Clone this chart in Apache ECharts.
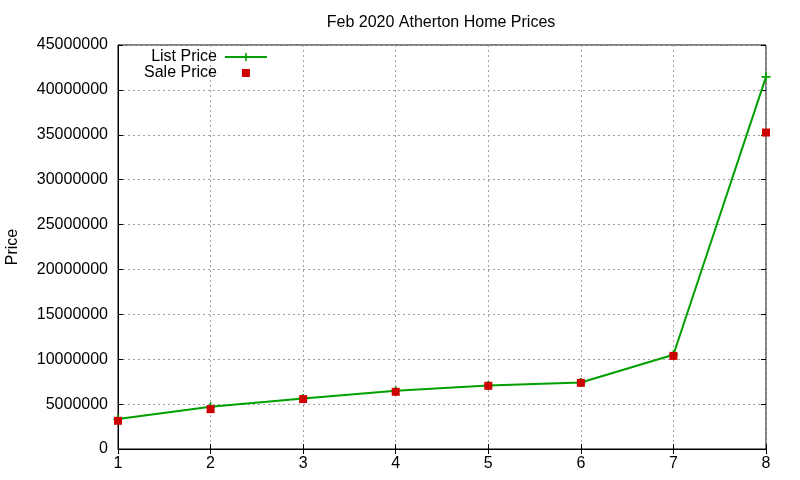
<!DOCTYPE html>
<html>
<head>
<meta charset="utf-8">
<script src="https://cdn.jsdelivr.net/npm/echarts@6/dist/echarts.min.js"></script>
<style>
  html, body { margin: 0; padding: 0; background: #fff; }
  #container { width: 800px; height: 480px; }
</style>
</head>
<body>
<div id="container"></div>
<script>
    var months = ['1', '2', '3', '4', '5', '6', '7', '8'];
    var listPrice = [3330000, 4700000, 5630000, 6480000, 7070000, 7400000, 10500000, 41450000];
    var salePrice = [3140000, 4440000, 5560000, 6370000, 7040000, 7370000, 10370000, 35250000];
    var priceTicks = [0, 45000000, 5000000];

    var dom = document.getElementById("container");
    var myChart = echarts.init(dom);
    var font = 'Liberation Sans';
    var plus = 'path://M4,0H6V4H10V6H6V10H4V6H0V4H4Z';
    // small square centred in a 42x10 box, for the legend
    var squareIcon = 'path://M0,0M42,10M17,1H25V9H17Z';
    var gridLine = { show: true, lineStyle: { color: '#a0a0a0', type: [2, 3], width: 1 } };

    var option = {
        animation: false,
        backgroundColor: '#fff',
        title: {
            text: 'Feb 2020 Atherton Home Prices',
            left: 436, top: 10, textAlign: 'center',
            textStyle: { fontFamily: font, fontSize: 16, fontWeight: 'normal', color: '#000' }
        },
        legend: {
            orient: 'vertical',
            align: 'right',
            left: 139, top: 44,
            itemWidth: 42, itemHeight: 10, itemGap: 0,
            textStyle: { fontFamily: font, fontSize: 16, color: '#000', lineHeight: 16, padding: [0, 3, 0, 0] },
            data: [{ name: 'List Price' }, { name: 'Sale Price', icon: squareIcon }]
        },
        grid: {
            left: 118, right: 34, top: 45, bottom: 31,
            outerBoundsMode: 'none',
            containLabel: false,
            show: true, borderColor: '#000', borderWidth: 1, backgroundColor: 'transparent'
        },
        xAxis: [{
            type: 'category',
            data: months,
            boundaryGap: false,
            axisLine: { show: true, lineStyle: { color: '#000' } },
            axisTick: { show: true, inside: true, length: 5, lineStyle: { color: '#000' } },
            axisLabel: { fontFamily: font, fontSize: 16, color: '#000', margin: 7 },
            splitLine: gridLine
        }, {
            type: 'category',
            data: months,
            position: 'top',
            boundaryGap: false,
            axisLine: { show: false },
            axisTick: { show: true, inside: true, length: 5, lineStyle: { color: '#000' } },
            axisLabel: { show: false },
            splitLine: { show: false }
        }],
        yAxis: [{
            type: 'value',
            name: 'Price',
            nameLocation: 'middle',
            nameGap: 97,
            nameTextStyle: { fontFamily: font, fontSize: 16, color: '#000' },
            min: priceTicks[0], max: priceTicks[1], interval: priceTicks[2],
            axisLine: { show: true, lineStyle: { color: '#000' } },
            axisTick: { show: true, inside: true, length: 5, lineStyle: { color: '#000' } },
            axisLabel: { fontFamily: font, fontSize: 16, color: '#000', margin: 10,
                formatter: function (v) { return String(v); } },
            splitLine: gridLine
        }, {
            type: 'value',
            position: 'right',
            min: priceTicks[0], max: priceTicks[1], interval: priceTicks[2],
            axisLine: { show: false },
            axisTick: { show: true, inside: true, length: 5, lineStyle: { color: '#000' } },
            axisLabel: { show: false },
            splitLine: { show: false }
        }],
        series: [{
            name: 'List Price',
            type: 'line',
            data: listPrice,
            color: '#00a000',
            lineStyle: { width: 2, color: '#00a000' },
            symbol: plus,
            symbolSize: 9,
            showAllSymbol: true,
            itemStyle: { color: '#00a000' },
            z: 2
        }, {
            name: 'Sale Price',
            type: 'scatter',
            data: salePrice,
            color: '#cc0000',
            symbol: 'rect',
            symbolSize: 8,
            itemStyle: { color: '#cc0000', opacity: 1 },
            z: 3
        }]
    };
    myChart.setOption(option, true);
</script>
</body>
</html>
